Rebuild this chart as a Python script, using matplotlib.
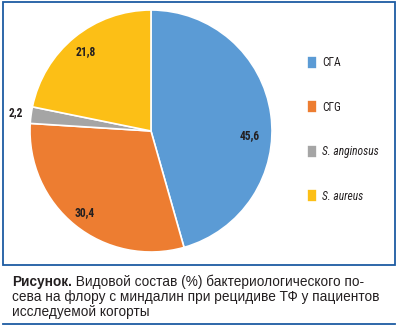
import numpy as np
import matplotlib
matplotlib.use("Agg")
import matplotlib.pyplot as plt
from matplotlib import font_manager
from matplotlib.patches import Rectangle
from matplotlib.lines import Line2D

# species composition, %
species = ["СГА", "СГG", "S. anginosus", "S. aureus"]
shares = [45.6, 30.4, 2.2, 21.8]
italic = [False, False, True, True]
colors = ["#5b9bd5", "#ed7d31", "#a5a5a5", "#fcbf16"]

# where each value label sits (radius fraction, angular nudge in degrees)
label_dist = [0.82, 0.87, 1.13, 0.85]
label_shift = [-10.7, 0, 0, 0]

caption_bold = "Рисунок."
caption_lines = [
    " Видовой состав (%) бактериологического по-",
    "сева на флору с миндалин при рецидиве ТФ у пациентов",
    "исследуемой когорты",
]

W, H = 398, 327
frame_blue = "#1d5ca3"

installed = {f.name for f in font_manager.fontManager.ttflist}
narrow = next((n for n in ["Liberation Sans Narrow", "Roboto Condensed",
                           "Arial Narrow", "Liberation Sans"] if n in installed),
              "DejaVu Sans")

fig = plt.figure(figsize=(W / 100, H / 100), dpi=100)

def px(x, y):
    return x / W, 1 - y / H

# pie: centre (151,131), radius 121 px
cx, cy, r = 151, 131, 121
ax = fig.add_axes([(cx - r) / W, 1 - (cy + r) / H, 2 * r / W, 2 * r / H])
wedges, _ = ax.pie(shares, colors=colors, startangle=90, counterclock=False,
                   wedgeprops=dict(edgecolor="white", linewidth=1.2))
ax.set_xlim(-1, 1)
ax.set_ylim(-1, 1)
ax.set_aspect("equal")
ax.axis("off")

start = 90.0
for val, d, s in zip(shares, label_dist, label_shift):
    mid = start - val * 3.6 / 2 + s
    start -= val * 3.6
    a = np.deg2rad(mid)
    ax.text(d * np.cos(a), d * np.sin(a), f"{val:.1f}".replace(".", ","),
            ha="center", va="center", fontsize=8.3, fontweight="bold",
            family=narrow, color="#231f20", clip_on=False)

# legend
leg = fig.legend(wedges, species, loc="upper left",
                 bbox_to_anchor=px(307, 56), frameon=False,
                 prop=dict(family=narrow, size=8.3),
                 handlelength=0.9, handleheight=1.35, handletextpad=0.4,
                 labelspacing=2.7, borderpad=0, borderaxespad=0)
for t, it in zip(leg.get_texts(), italic):
    t.set_color("#231f20")
    if it:
        t.set_style("italic")

# frame around the chart and rule under the caption
fig.patches.append(Rectangle(px(3, 265), 392 / W, 263 / H, transform=fig.transFigure,
                             fill=False, edgecolor=frame_blue, linewidth=1.3))
fig.lines.append(Line2D([3 / W, 395 / W], [1 - 324 / H] * 2, transform=fig.transFigure,
                        color=frame_blue, linewidth=1.3))

# caption
cap = dict(family="Liberation Sans", size=9.8, color="#231f20", va="baseline")
x0, y0 = px(12, 286)
tb = fig.text(x0, y0, caption_bold, fontweight="bold", **cap)
fig.canvas.draw()
bb = tb.get_window_extent()
fig.text(bb.x1 / W, y0, caption_lines[0], **cap)
for i, line in enumerate(caption_lines[1:], start=1):
    fig.text(x0, 1 - (286 + 15 * i) / H, line, **cap)

fig.savefig("out.png", dpi=100)
